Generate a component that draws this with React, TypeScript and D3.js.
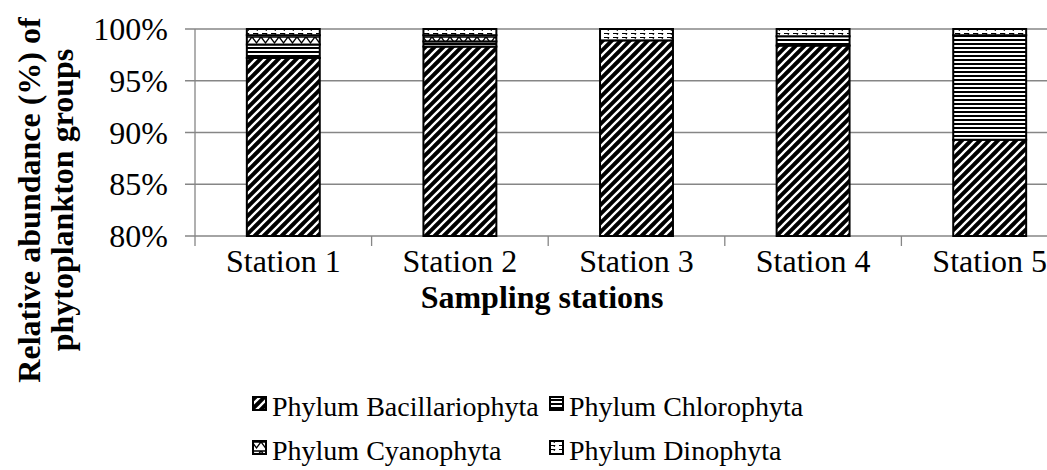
import React from "react";
import * as d3 from "d3";

const stations = ["Station 1", "Station 2", "Station 3", "Station 4", "Station 5"];
const groups = ["Phylum Bacillariophyta", "Phylum Chlorophyta", "Phylum Cyanophyta", "Phylum Dinophyta"];
const bacillariophyta = [97.2, 98.3, 98.9, 98.4, 89.3];
const chlorophyta = [1.3, 0.5, 0.0, 0.9, 10.1];
const cyanophyta = [0.9, 0.6, 0.0, 0.0, 0.0];
const dinophyta = [0.6, 0.6, 1.1, 0.7, 0.6];
const yTicks = [80, 85, 90, 95, 100];

const W = 1047, H = 470;
const plotLeft = 195, plotTop = 29, plotBottom = 236;
const step = 176.6;
const FONT = "Liberation Serif, Times New Roman, Times, serif";

export default function App() {
  const x = d3.scaleBand<string>().domain(stations)
    .range([plotLeft, plotLeft + step * stations.length])
    .paddingInner(0.587).paddingOuter(0.2935);
  const y = d3.scaleLinear().domain([80, 100]).range([plotBottom, plotTop]);
  const rows = stations.map((s, i) => ({
    station: s,
    [groups[0]]: bacillariophyta[i],
    [groups[1]]: chlorophyta[i],
    [groups[2]]: cyanophyta[i],
    [groups[3]]: dinophyta[i],
  }));
  const stack = d3.stack<any>().keys(groups)(rows);
  const fills = ["url(#pBac)", "url(#pChl)", "url(#pCya)", "url(#pDin)"];
  const legendItems = [
    { i: 0, x: 253, y: 416 },
    { i: 1, x: 550, y: 416 },
    { i: 2, x: 253, y: 460 },
    { i: 3, x: 550, y: 460 },
  ];
  const tStyle = { fontFamily: FONT } as React.CSSProperties;
  return (
    <div style={{ position: "fixed", left: 0, top: 0 }}>
      <svg width={W} height={H} style={{ display: "block", background: "#fff", fontFamily: FONT }}>
        <defs>
          <pattern id="pBac" patternUnits="userSpaceOnUse" width={9} height={9}>
            <rect width={9} height={9} fill="#000" />
            <path d="M-1,10 L10,-1 M-5,5 L5,-5 M4,14 L14,4" stroke="#fff" strokeWidth={2.3} />
          </pattern>
          <pattern id="pChl" patternUnits="userSpaceOnUse" width={8} height={4}>
            <rect width={8} height={4} fill="#000" />
            <rect y={1} width={8} height={2} fill="#fff" />
          </pattern>
          <pattern id="pCya" patternUnits="userSpaceOnUse" width={9} height={9}>
            <rect width={9} height={9} fill="#fff" />
            <path d="M0,1 L9,1 M0,1 L4.5,7 L9,1" stroke="#000" strokeWidth={1.3} fill="none" />
          </pattern>
          <pattern id="pDin" patternUnits="userSpaceOnUse" width={9} height={4}>
            <rect width={9} height={4} fill="#fff" />
            <path d="M1,1.5 L6,1.5 M5,3 L6,1" stroke="#000" strokeWidth={1} fill="none" />
          </pattern>
        </defs>

        {yTicks.map((t) => (
          <line key={t} x1={plotLeft - 10} x2={W} y1={y(t)} y2={y(t)} stroke="#868686" strokeWidth={1.3} />
        ))}
        <line x1={plotLeft} x2={plotLeft} y1={plotTop} y2={plotBottom} stroke="#868686" strokeWidth={1.3} />
        {d3.range(stations.length + 1).map((k) => (
          <line key={k} x1={plotLeft + step * k} x2={plotLeft + step * k} y1={plotBottom} y2={plotBottom + 10} stroke="#868686" strokeWidth={1.3} />
        ))}

        {yTicks.map((t) => (
          <text key={t} style={tStyle} x={168} y={y(t) + 11} textAnchor="end" fontSize={32} fill="#000">{t}%</text>
        ))}

        {stack.map((layer, li) => (
          <g key={layer.key}>
            {layer.map((d, i) => {
              if (d[1] - d[0] <= 0) return null;
              const top = y(Math.min(d[1], 100));
              const bot = y(Math.max(d[0], 80));
              return (
                <rect key={i} x={x(stations[i])!} y={top} width={x.bandwidth()} height={bot - top}
                  fill={fills[li]} stroke="#000" strokeWidth={2} />
              );
            })}
          </g>
        ))}

        {stations.map((s) => (
          <text key={s} style={tStyle} x={x(s)! + x.bandwidth() / 2} y={272} textAnchor="middle" fontSize={32} fill="#000">{s}</text>
        ))}
        <text style={tStyle} x={542} y={308} textAnchor="middle" fontSize={32} fontWeight="bold" fill="#000">Sampling stations</text>

        <text style={tStyle} transform="translate(40,200) rotate(-90)" textAnchor="middle" fontSize={32} fontWeight="bold" fill="#000">Relative abundance (%) of</text>
        <text style={tStyle} transform="translate(73,200) rotate(-90)" textAnchor="middle" fontSize={32} fontWeight="bold" fill="#000">phytoplankton groups</text>

        {legendItems.map((it) => (
          <g key={it.i}>
            <rect x={it.x} y={it.y - 19} width={13} height={13} fill={fills[it.i]} stroke="#000" strokeWidth={2} />
            <text style={tStyle} x={it.x + 19} y={it.y} fontSize={28} fill="#000">{groups[it.i]}</text>
          </g>
        ))}
      </svg>
    </div>
  );
}
